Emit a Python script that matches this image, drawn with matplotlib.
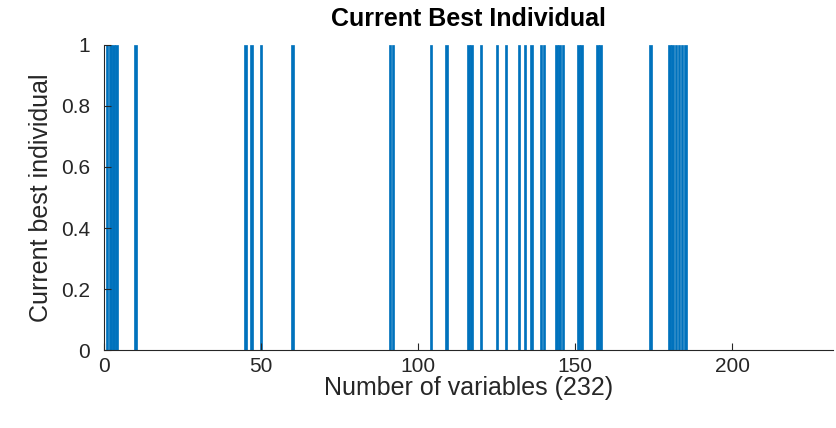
import numpy as np
import matplotlib
matplotlib.use('Agg')
import matplotlib.pyplot as plt

plt.rcParams['font.family'] = ['Liberation Sans', 'DejaVu Sans']

# indices of the selected variables (value 1), all others are 0
N_VARS = 232
SELECTED = [1, 2, 3, 4, 10, 45, 47, 50, 60, 91, 92, 104, 109, 116, 117, 120,
            125, 128, 132, 134, 136, 139, 140, 144, 145, 146, 151, 152, 157,
            158, 174, 180, 181, 182, 183, 184, 185]
XTICKS = [0, 50, 100, 150, 200]
YTICKS = [0, 0.2, 0.4, 0.6, 0.8, 1]
YTICKLABELS = ['0', '0.2', '0.4', '0.6', '0.8', '1']
BLUE = '#0072BD'
GREY = '#262626'


def main():
    vals = np.zeros(N_VARS)
    for s in SELECTED:
        vals[s - 1] = 1
    x = np.arange(1, N_VARS + 1)

    fig = plt.figure(figsize=(8.36, 4.28), dpi=100)
    ax = fig.add_axes([0.1244, 0.1822, 0.872, 0.7127])
    ax.bar(x, vals, width=0.8, color=BLUE, edgecolor=BLUE, linewidth=0.5)

    ax.set_xlim(0, N_VARS)
    ax.set_ylim(0, 1)
    ax.set_xticks(XTICKS)
    ax.set_yticks(YTICKS)
    ax.set_yticklabels(YTICKLABELS)
    ax.spines['top'].set_visible(False)
    ax.spines['right'].set_visible(False)
    for sp in ['left', 'bottom']:
        ax.spines[sp].set_color(GREY)
    ax.tick_params(direction='in', length=5, colors=GREY, labelsize=15,
                   labelcolor=GREY)
    ax.tick_params(axis='y', pad=10)
    ax.tick_params(axis='x', pad=5)

    ax.set_xlabel('Number of variables (232)', fontsize=18, color=GREY,
                  labelpad=0)
    ax.set_ylabel('Current best individual', fontsize=18, color=GREY,
                  labelpad=6)
    ax.set_title('Current Best Individual', fontsize=18, fontweight='bold',
                 color='black', pad=14)

    plt.savefig('out.png', dpi=100)


if __name__ == '__main__':
    main()
